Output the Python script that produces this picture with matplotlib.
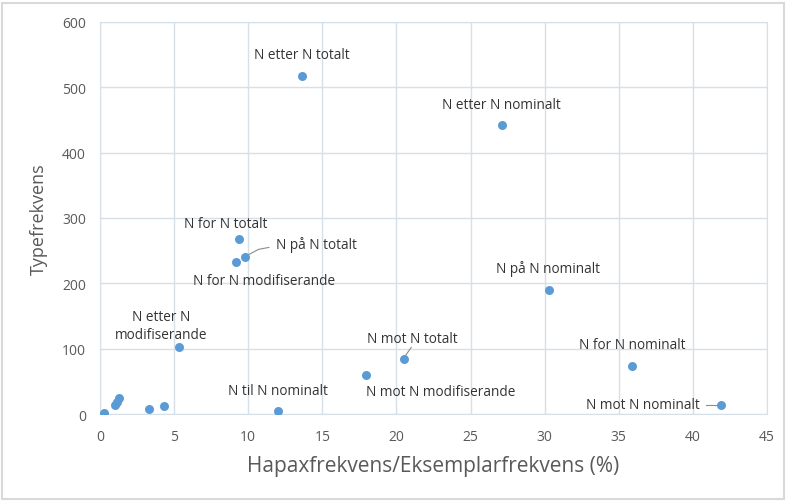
import matplotlib.pyplot as plt
from matplotlib.patches import Rectangle

# Labelled points
labels = ["N etter N totalt", "N etter N nominalt", "N for N totalt", "N på N totalt",
          "N for N modifiserande", "N etter N\nmodifiserande", "N mot N totalt",
          "N mot N modifiserande", "N til N nominalt", "N på N nominalt",
          "N for N nominalt", "N mot N nominalt"]
hapax = [13.6, 27.1, 9.4, 9.8, 9.15, 5.3, 20.5, 17.95, 12.0, 30.3, 35.9, 41.9]
types = [518, 442, 268, 240, 232, 103, 84, 59, 4, 190, 73, 14]

# Unlabelled points near origin
hapax_small = [0.3, 1.0, 1.15, 1.3, 3.3, 4.3]
types_small = [1, 14, 19, 24, 8, 12]

# Label positions (data coordinates) and whether a leader line is drawn
label_x = [13.65, 27.1, 8.5, 14.6, 11.1, 4.1, 21.1, 23.0, 12.0, 30.25, 35.9, 36.6]
label_y = [550, 473, 291, 260, 205, 135, 116, 34, 36, 223, 106, 14]
leader = [False, False, False, True, False, False, True, False, False, False, False, True]

blue = "#5B9BD5"
grid_c = "#D5E0E8"
text_c = "#333333"
tick_c = "#595959"

plt.rcParams['font.family'] = ['Open Sans', 'DejaVu Sans']

fig = plt.figure(figsize=(7.86, 5.02), dpi=100)
fig.patches.append(Rectangle((0.003, 0.003), 0.994, 0.99, transform=fig.transFigure,
                             fill=False, edgecolor="#D9D9D9", linewidth=1.5))
ax = fig.add_axes([0.1272, 0.1733, 0.8486, 0.7809])

ax.scatter(hapax, types, s=42, color=blue, zorder=3, linewidths=0)
ax.scatter(hapax_small, types_small, s=42, color=blue, zorder=3, linewidths=0)

for lab, px, py, lx, ly, ld in zip(labels, hapax, types, label_x, label_y, leader):
    ax.text(lx, ly, lab, ha="center", va="center", fontsize=9.8, color=text_c,
            linespacing=1.3, zorder=4)
    if ld:
        if lab == "N på N totalt":
            ax.plot([px + 0.15, px + 0.9, px + 1.6], [py + 3, py + 12, py + 15],
                    color="#8C8C8C", linewidth=0.8)
        elif lab == "N mot N totalt":
            ax.plot([px + 0.1, px + 0.5], [py + 5, py + 18], color="#8C8C8C", linewidth=0.8)
        else:
            ax.plot([px - 0.35, px - 1.0], [py, py], color="#8C8C8C", linewidth=0.8)

ax.set_xlim(0, 45)
ax.set_ylim(0, 600)
ax.set_xticks(range(0, 46, 5))
ax.set_yticks(range(0, 601, 100))
ax.grid(True, color=grid_c, linewidth=1)
ax.set_axisbelow(True)
for sp in ax.spines.values():
    sp.set_color(grid_c)
ax.tick_params(length=0, labelsize=10, colors=tick_c)
ax.tick_params(axis="x", pad=11)
ax.tick_params(axis="y", pad=10)

ax.set_xlabel("Hapaxfrekvens/Eksemplarfrekvens (%)", fontsize=15, color=tick_c, labelpad=8)
ax.set_ylabel("Typefrekvens", fontsize=13, color=tick_c, labelpad=10)

fig.savefig("out.png", dpi=100)
